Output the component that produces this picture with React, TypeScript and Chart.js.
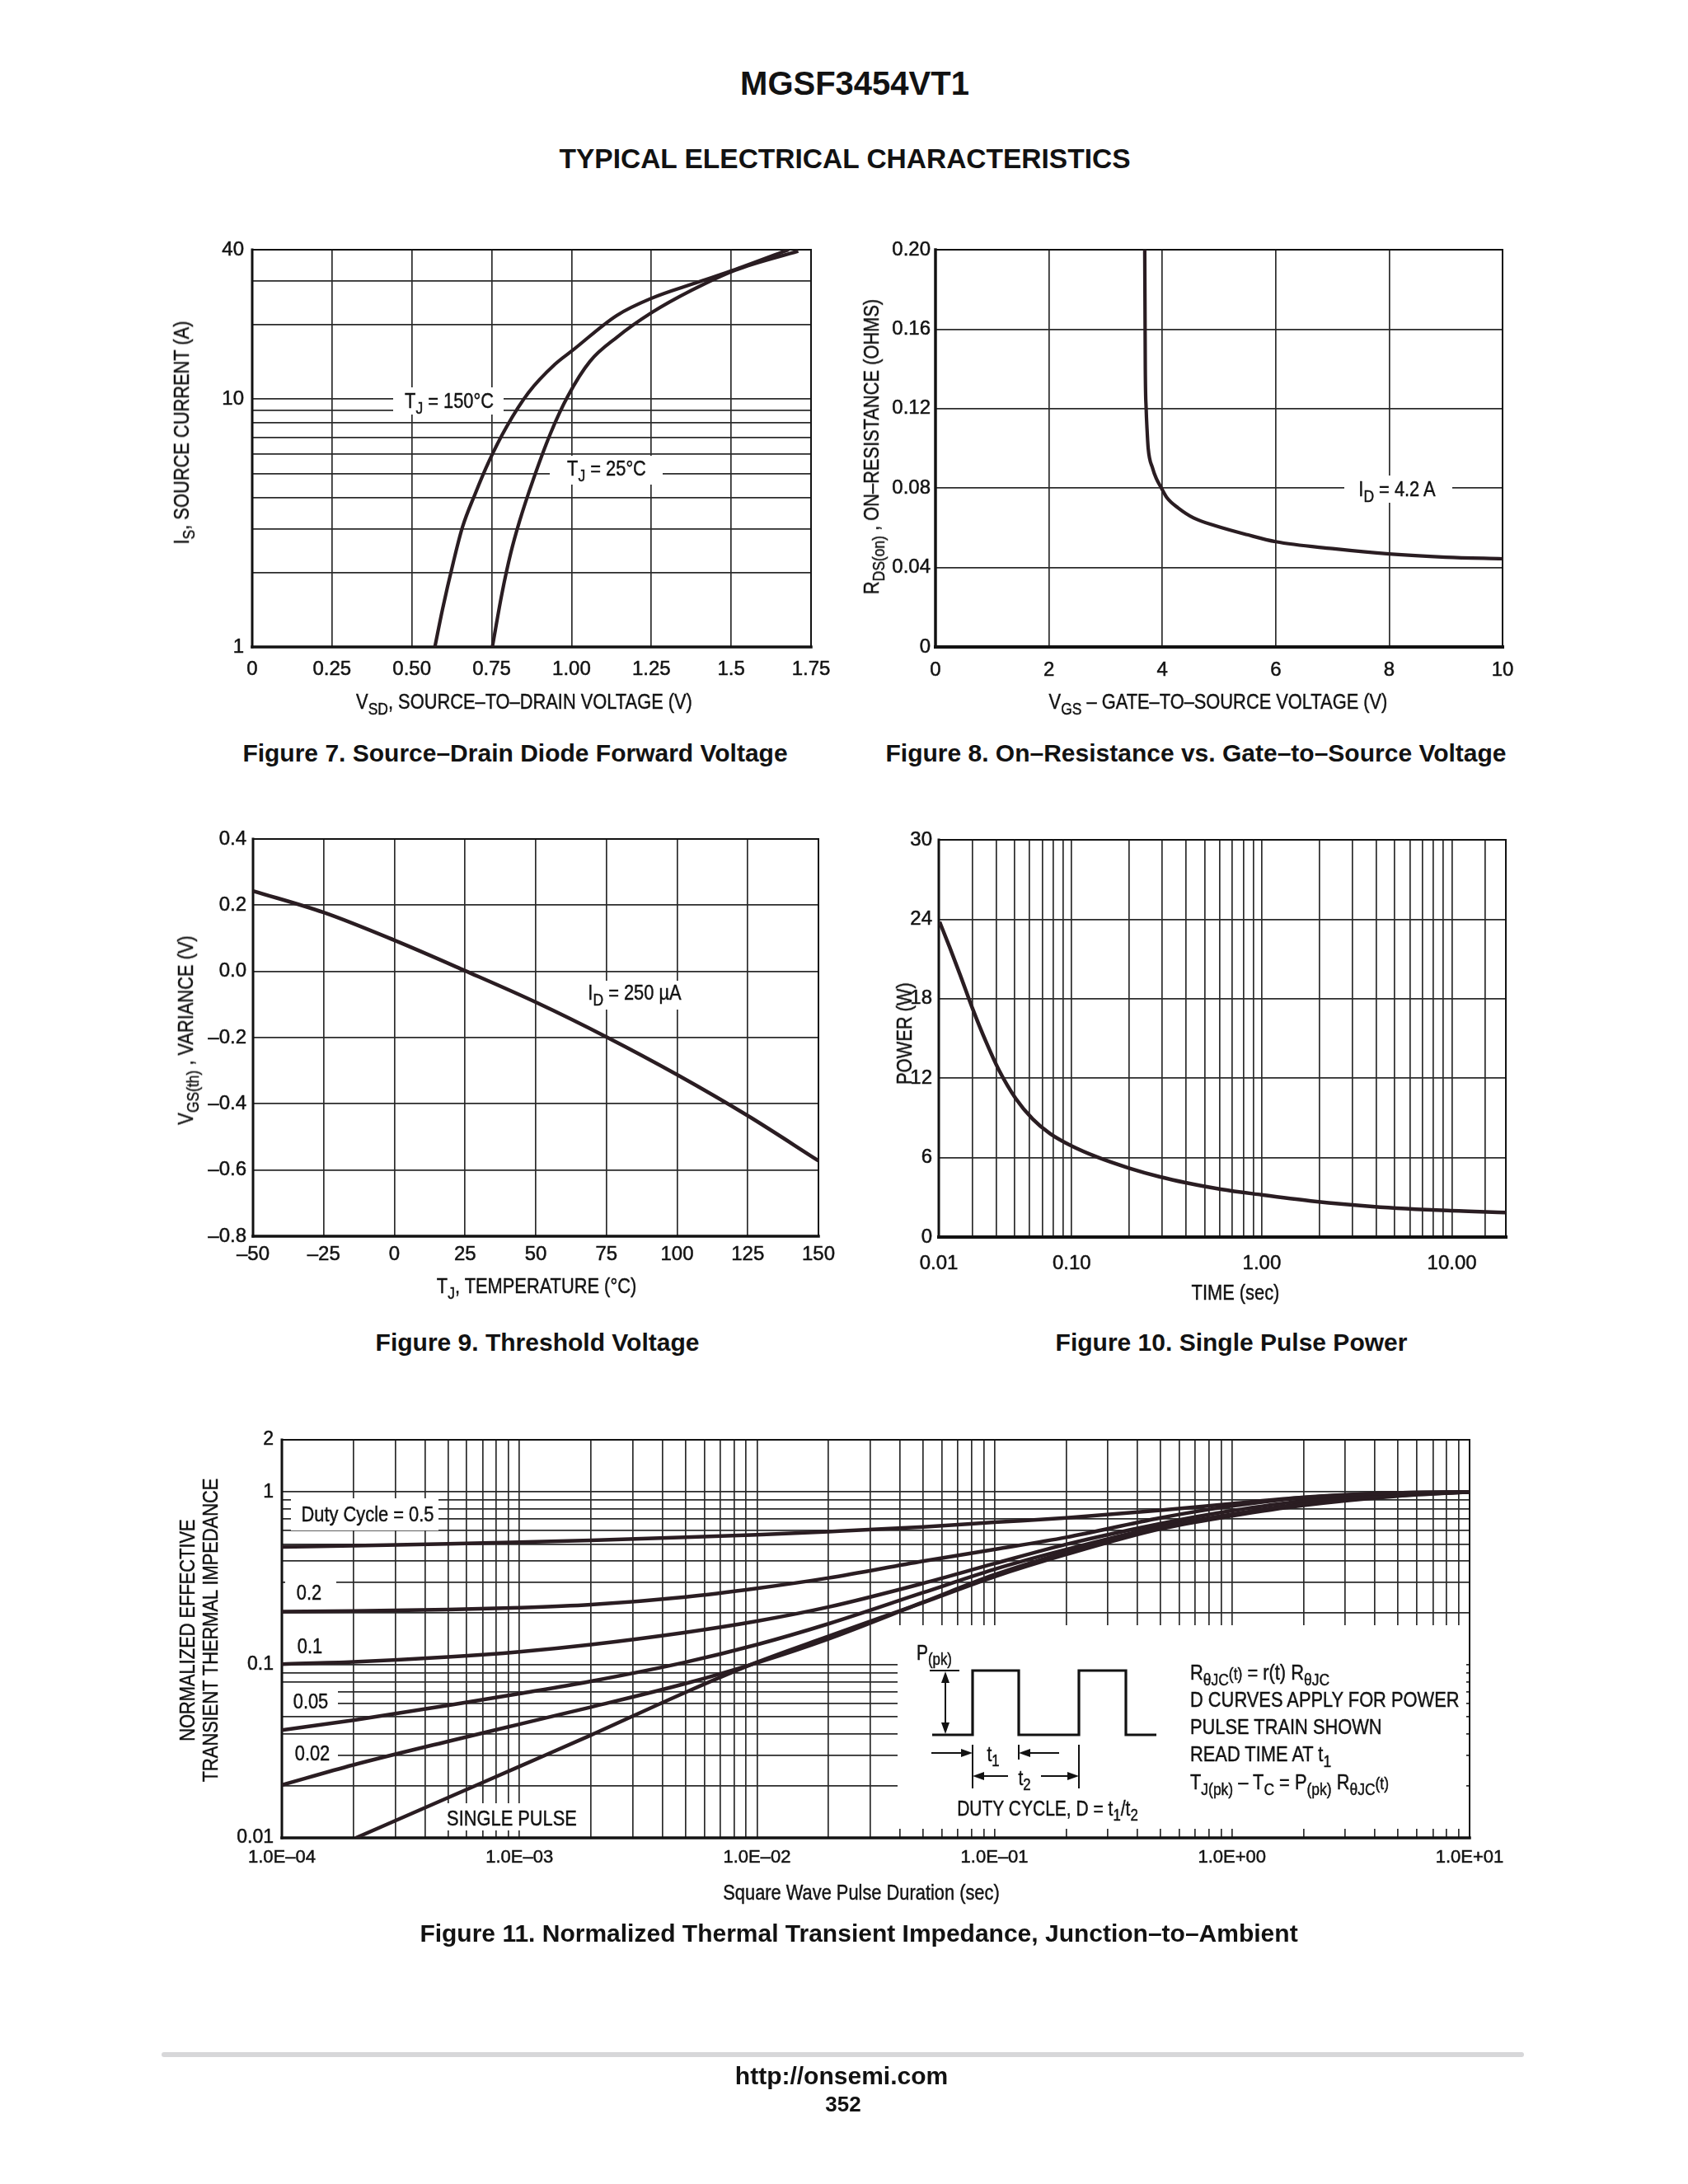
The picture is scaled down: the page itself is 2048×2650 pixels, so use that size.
import React, { useEffect, useRef } from 'react';
import { Chart, registerables } from 'chart.js';

Chart.register(...registerables);

// ===================== DATA =====================
// Figure 7 – Source–Drain Diode Forward Voltage
const f7XTicks = [0, 0.25, 0.5, 0.75, 1.0, 1.25, 1.5, 1.75];
const f7XLabels = ['0', '0.25', '0.50', '0.75', '1.00', '1.25', '1.5', '1.75'];
const f7YGrid = [1, 2, 3, 4, 5, 6, 7, 8, 9, 10, 20, 30, 40];
const f7YLabelVals = [1, 10, 40];
const f7YLabels = ['1', '10', '40'];
const f7Tj150V = [0.572, 0.596, 0.63, 0.658, 0.699, 0.741, 0.796, 0.865, 0.948, 1.003, 1.141, 1.251, 1.389, 1.513, 1.68];
const f7Tj150I = [1.0, 1.42, 2.2, 3.03, 4.17, 5.59, 7.7, 10.6, 13.8, 15.7, 21.7, 25.5, 29.4, 33.3, 40.0];
const f7Tj25V = [0.752, 0.782, 0.81, 0.837, 0.879, 0.934, 0.989, 1.058, 1.141, 1.251, 1.375, 1.513, 1.71];
const f7Tj25I = [1.0, 1.64, 2.4, 3.21, 4.69, 7.26, 10.3, 14.2, 17.7, 22.3, 27.4, 33.1, 39.5];

// Figure 8 – On–Resistance vs. Gate–to–Source Voltage
const f8XTicks = [0, 2, 4, 6, 8, 10];
const f8XLabels = ['0', '2', '4', '6', '8', '10'];
const f8YTicks = [0, 0.04, 0.08, 0.12, 0.16, 0.2];
const f8YLabels = ['0', '0.04', '0.08', '0.12', '0.16', '0.20'];
const f8Vgs = [3.69, 3.695, 3.7, 3.715, 3.73, 3.751, 3.829, 3.891, 3.984, 4.086, 4.28, 4.55, 4.94, 5.5, 6.0, 7.0, 8.0, 9.0, 10.0];
const f8Rds = [0.2, 0.17, 0.14, 0.12, 0.11, 0.1, 0.09, 0.085, 0.08, 0.075, 0.07, 0.065, 0.061, 0.0565, 0.053, 0.0495, 0.0468, 0.0452, 0.0444];

// Figure 9 – Threshold Voltage
const f9XTicks = [-50, -25, 0, 25, 50, 75, 100, 125, 150];
const f9XLabels = ['–50', '–25', '0', '25', '50', '75', '100', '125', '150'];
const f9YTicks = [-0.8, -0.6, -0.4, -0.2, 0, 0.2, 0.4];
const f9YLabels = ['–0.8', '–0.6', '–0.4', '–0.2', '0.0', '0.2', '0.4'];
const f9Tj = [-50, -25, 0, 25, 50, 75, 100, 125, 150];
const f9Var = [0.243, 0.178, 0.094, 0.002, -0.093, -0.198, -0.312, -0.436, -0.572];

// Figure 10 – Single Pulse Power
const f10XGrid = [0.02, 0.03, 0.04, 0.05, 0.06, 0.07, 0.08, 0.09, 0.1, 0.2, 0.3, 0.4, 0.5, 0.6, 0.7, 0.8, 0.9,
  1, 2, 3, 4, 5, 6, 7, 8, 9, 10, 15];
const f10XLabelVals = [0.02, 0.1, 1, 10];
const f10XLabels = ['0.01', '0.10', '1.00', '10.00'];
const f10YTicks = [0, 6, 12, 18, 24, 30];
const f10YLabels = ['0', '6', '12', '18', '24', '30'];
const f10Time = [0.0202, 0.0228, 0.0259, 0.0302, 0.0353, 0.0413, 0.0508, 0.0624, 0.0768, 0.0995, 0.136, 0.2, 0.289, 0.402, 0.608, 0.995, 1.9, 3.82, 9.45, 19.2];
const f10Power = [23.8, 21.9, 19.8, 17.2, 14.8, 12.65, 10.46, 8.91, 7.82, 6.89, 6.04, 5.21, 4.56, 4.09, 3.61, 3.19, 2.69, 2.31, 2.0, 1.85];

// Figure 11 – Normalized Thermal Transient Impedance
const f11Decades = [1e-4, 1e-3, 1e-2, 1e-1, 1];
const f11Steps = [1, 2, 3, 4, 5, 6, 7, 8, 9];
const f11XLabelVals = [1e-4, 1e-3, 1e-2, 1e-1, 1, 10];
const f11XLabels = ['1.0E–04', '1.0E–03', '1.0E–02', '1.0E–01', '1.0E+00', '1.0E+01'];
const f11YDecades = [0.01, 0.1];
const f11YLabelVals = [0.01, 0.1, 1, 2];
const f11YLabels = ['0.01', '0.1', '1', '2'];
const f11T = [1e-4, 2e-4, 5e-4, 1e-3, 2e-3, 5e-3, 1e-2, 2e-2, 5e-2, 0.1, 0.2, 0.5, 1, 2, 5, 10];
const f11D050 = [0.48, 0.489, 0.501, 0.512, 0.525, 0.546, 0.565, 0.589, 0.627, 0.667, 0.708, 0.783, 0.855, 0.931, 0.989, 1.0];
const f11D020 = [0.203, 0.205, 0.209, 0.214, 0.223, 0.247, 0.277, 0.318, 0.398, 0.465, 0.546, 0.708, 0.828, 0.925, 0.989, 1.0];
const f11D010 = [0.101, 0.104, 0.111, 0.119, 0.131, 0.154, 0.179, 0.216, 0.296, 0.385, 0.497, 0.655, 0.778, 0.887, 0.973, 1.0];
const f11D005 = [0.042, 0.0479, 0.0583, 0.0682, 0.0804, 0.1036, 0.131, 0.1728, 0.2615, 0.357, 0.464, 0.629, 0.742, 0.855, 0.959, 1.0];
const f11D002 = [0.0202, 0.0264, 0.0361, 0.0454, 0.057, 0.078, 0.1028, 0.1413, 0.23, 0.332, 0.447, 0.622, 0.74, 0.845, 0.953, 1.0];
const f11SingleT = [2.05e-4, 5e-4, 1e-3, 2e-3, 5e-3, 1e-2, 2e-2, 5e-2, 0.1, 0.2, 0.5, 1, 2, 5, 10];
const f11Single = [0.01, 0.01706, 0.02588, 0.03926, 0.06934, 0.1035, 0.1462, 0.2291, 0.3236, 0.4345, 0.6109, 0.7261, 0.8356, 0.9462, 1.0];

// ===================== STYLE / LAYOUT =====================
const INK = '#121212';
const GRID = '#2b2b2b';
const CURVE = '#2a1d22';
const SANS = "'Liberation Sans', Arial, Helvetica, sans-serif";
const COND = 0.84; // horizontal compression imitating a condensed face

type Rect = { l: number; t: number; w: number; h: number };
type Box = { x1: number; y1: number; x2: number; y2: number };
const MARGIN = { L: 120, T: 30, R: 70, B: 70 };

const P7: Rect = { l: 306, t: 303, w: 678, h: 482 };
const P8: Rect = { l: 1135, t: 303, w: 688, h: 482 };
const P9: Rect = { l: 307, t: 1018, w: 686, h: 482 };
const P10: Rect = { l: 1139, t: 1019, w: 688, h: 482 };
const P11: Rect = { l: 342, t: 1747, w: 1441, h: 483 };

function same(a: number, b: number, log: boolean) {
  return log ? Math.abs(Math.log10(a) - Math.log10(b)) < 1e-6 : Math.abs(a - b) < 1e-9;
}

function axis(o: {
  log?: boolean; min: number; max: number; grid: number[]; labelVals: number[]; labels: string[];
  pad: number; size: number; horizontal: boolean;
}) {
  return {
    type: o.log ? 'logarithmic' : 'linear',
    min: o.min,
    max: o.max,
    afterBuildTicks: (s: any) => { s.ticks = o.grid.map((v) => ({ value: v })); },
    afterFit: (s: any) => { if (o.horizontal) s.height = MARGIN.B; else s.width = MARGIN.L; },
    ticks: {
      autoSkip: false, maxRotation: 0, minRotation: 0, padding: o.pad, color: INK,
      textStrokeColor: INK, textStrokeWidth: 0.5,
      font: { family: SANS, size: o.size },
      callback: (v: number) => {
        const i = o.labelVals.findIndex((k) => same(k, v, !!o.log));
        return i >= 0 ? o.labels[i] : '';
      },
    },
    grid: { color: GRID, lineWidth: 1.7, drawTicks: false },
    border: { display: false },
  };
}

function series(xs: number[], ys: number[], width: number) {
  return {
    data: xs.map((x, i) => ({ x, y: ys[i] })),
    borderColor: CURVE, borderWidth: width, pointRadius: 0, fill: false,
    cubicInterpolationMode: 'monotone',
  };
}

function buildConfig(p: { plot: Rect; x: any; y: any; datasets: any[]; masks?: Box[]; frame: number[] }) {
  const ox = p.plot.l - MARGIN.L;
  const oy = p.plot.t - MARGIN.T;
  const maskPlugin = {
    id: 'masks',
    beforeDatasetsDraw(chart: any) {
      const ctx = chart.ctx;
      ctx.save();
      ctx.fillStyle = '#ffffff';
      (p.masks || []).forEach((m) => ctx.fillRect(m.x1 - ox, m.y1 - oy, m.x2 - m.x1, m.y2 - m.y1));
      ctx.restore();
    },
  };
  const framePlugin = {
    id: 'frame',
    beforeDatasetsDraw(chart: any) {
      const { ctx, chartArea: a } = chart;
      const [wl, wb, wt, wr] = p.frame;
      ctx.save();
      ctx.strokeStyle = INK;
      ctx.lineCap = 'square';
      const seg = (x1: number, y1: number, x2: number, y2: number, w: number) => {
        ctx.lineWidth = w; ctx.beginPath(); ctx.moveTo(x1, y1); ctx.lineTo(x2, y2); ctx.stroke();
      };
      seg(a.left, a.top, a.right, a.top, wt);
      seg(a.right, a.top, a.right, a.bottom, wr);
      seg(a.left, a.bottom, a.right, a.bottom, wb);
      seg(a.left, a.top, a.left, a.bottom, wl);
      ctx.restore();
    },
  };
  return {
    type: 'line',
    data: { datasets: p.datasets },
    options: {
      responsive: false, animation: false, devicePixelRatio: 1,
      layout: { padding: { left: 0, top: MARGIN.T, right: MARGIN.R, bottom: 0 } },
      plugins: { legend: { display: false }, tooltip: { enabled: false } },
      scales: { x: p.x, y: p.y },
    },
    plugins: [maskPlugin, framePlugin],
  };
}

function ChartCanvas({ plot, make }: { plot: Rect; make: () => any }) {
  const ref = useRef<HTMLCanvasElement>(null);
  useEffect(() => {
    const chart = new Chart(ref.current as HTMLCanvasElement, make());
    return () => chart.destroy();
  }, []);
  const W = plot.w + MARGIN.L + MARGIN.R;
  const H = plot.h + MARGIN.T + MARGIN.B;
  return (
    <canvas ref={ref} width={W} height={H}
      style={{ position: 'absolute', left: plot.l - MARGIN.L, top: plot.t - MARGIN.T, width: W, height: H }} />
  );
}

// ===================== CHART CONFIGS =====================
const makeFig7 = () => buildConfig({
  plot: P7,
  x: axis({ min: 0, max: 1.75, grid: f7XTicks, labelVals: f7XTicks, labels: f7XLabels, pad: 13, size: 24, horizontal: true }),
  y: axis({ log: true, min: 1, max: 40, grid: f7YGrid, labelVals: f7YLabelVals, labels: f7YLabels, pad: 10, size: 24, horizontal: false }),
  datasets: [series(f7Tj150V, f7Tj150I, 4.2), series(f7Tj25V, f7Tj25I, 4.2)],
  masks: [{ x1: 477, y1: 470, x2: 611, y2: 503 }, { x1: 667, y1: 553, x2: 804, y2: 588 }],
  frame: [3, 3.5, 2, 2],
});

const makeFig8 = () => buildConfig({
  plot: P8,
  x: axis({ min: 0, max: 10, grid: f8XTicks, labelVals: f8XTicks, labels: f8XLabels, pad: 14, size: 24, horizontal: true }),
  y: axis({ min: 0, max: 0.2, grid: f8YTicks, labelVals: f8YTicks, labels: f8YLabels, pad: 6, size: 24, horizontal: false }),
  datasets: [series(f8Vgs, f8Rds, 4.2)],
  masks: [{ x1: 1631, y1: 577, x2: 1762, y2: 610 }],
  frame: [3.5, 4, 2, 2],
});

const makeFig9 = () => buildConfig({
  plot: P9,
  x: axis({ min: -50, max: 150, grid: f9XTicks, labelVals: f9XTicks, labels: f9XLabels, pad: 8, size: 24, horizontal: true }),
  y: axis({ min: -0.8, max: 0.4, grid: f9YTicks, labelVals: f9YTicks, labels: f9YLabels, pad: 8, size: 24, horizontal: false }),
  datasets: [series(f9Tj, f9Var, 4.5)],
  masks: [{ x1: 706, y1: 1190, x2: 834, y2: 1225 }],
  frame: [3, 3.5, 2, 2],
});

const makeFig10 = () => buildConfig({
  plot: P10,
  x: axis({ log: true, min: 0.02, max: 19.2, grid: f10XGrid, labelVals: f10XLabelVals, labels: f10XLabels, pad: 18, size: 24, horizontal: true }),
  y: axis({ min: 0, max: 30, grid: f10YTicks, labelVals: f10YTicks, labels: f10YLabels, pad: 8, size: 24, horizontal: false }),
  datasets: [series(f10Time, f10Power, 4.5)],
  frame: [3, 4, 2, 2],
});

const f11XGrid = [...f11Decades.flatMap((d) => f11Steps.map((k) => k * d)), 10];
const f11YGrid = [...f11YDecades.flatMap((d) => f11Steps.map((k) => k * d)), 1, 2];

const makeFig11 = () => buildConfig({
  plot: P11,
  x: axis({ log: true, min: 1e-4, max: 10, grid: f11XGrid, labelVals: f11XLabelVals, labels: f11XLabels, pad: 11, size: 22, horizontal: true }),
  y: axis({ log: true, min: 0.01, max: 2, grid: f11YGrid, labelVals: f11YLabelVals, labels: f11YLabels, pad: 10, size: 23, horizontal: false }),
  datasets: [
    series(f11T, f11D050, 4.5), series(f11T, f11D020, 4.5), series(f11T, f11D010, 4.5),
    series(f11T, f11D005, 4.5), series(f11T, f11D002, 4.5), series(f11SingleT, f11Single, 4.5),
  ],
  masks: [
    { x1: 1089, y1: 1972, x2: 1779, y2: 2219 },
    { x1: 353, y1: 1818, x2: 532, y2: 1857 },
    { x1: 346, y1: 1918, x2: 408, y2: 1947 },
    { x1: 343, y1: 2045, x2: 410, y2: 2075 },
    { x1: 343, y1: 2117, x2: 410, y2: 2140 },
    { x1: 536, y1: 2188, x2: 706, y2: 2221 },
  ],
  frame: [3, 3.5, 2, 2],
});

// ===================== TEXT HELPERS =====================
function Txt(props: {
  x: number; y: number; size?: number; weight?: number; rot?: boolean; sx?: number;
  align?: 'center' | 'left'; children: React.ReactNode;
}) {
  const { x, y, size = 26, weight = 400, rot = false, sx = COND, align = 'center', children } = props;
  const tr = (align === 'center' ? 'translate(-50%,-50%)' : 'translate(0,-50%)') +
    (rot ? ' rotate(-90deg)' : '') + (sx !== 1 ? ` scaleX(${sx})` : '');
  return (
    <div style={{
      position: 'absolute', left: x, top: y, transform: tr,
      transformOrigin: align === 'center' ? '50% 50%' : '0 50%',
      fontFamily: SANS, fontSize: size, fontWeight: weight, lineHeight: 1, whiteSpace: 'nowrap', color: INK,
      WebkitTextStroke: weight < 600 ? `0.45px ${INK}` : undefined,
    }}>{children}</div>
  );
}
const Sb = ({ children }: { children: React.ReactNode }) => (
  <span style={{ fontSize: '0.8em', position: 'relative', top: '0.32em' }}>{children}</span>
);
const Sm = ({ children }: { children: React.ReactNode }) => (
  <span style={{ fontSize: '0.8em' }}>{children}</span>
);

function arrowPts(x: number, y: number, dir: 'l' | 'r' | 'u' | 'd') {
  const L = 14, W = 5;
  if (dir === 'r') return `${x},${y} ${x - L},${y - W} ${x - L},${y + W}`;
  if (dir === 'l') return `${x},${y} ${x + L},${y - W} ${x + L},${y + W}`;
  if (dir === 'u') return `${x},${y} ${x - W},${y + L} ${x + W},${y + L}`;
  return `${x},${y} ${x - W},${y - L} ${x + W},${y - L}`;
}

function PulseDiagram() {
  return (
    <svg width={2048} height={2650} style={{ position: 'absolute', left: 0, top: 0, pointerEvents: 'none' }}>
      <g stroke={INK} fill="none">
        <polyline strokeWidth={3.2} points="1131,2105 1180,2105 1180,2027 1236,2027 1236,2105 1309,2105 1309,2027 1366,2027 1366,2105 1403,2105" />
        <line x1={1128} y1={2027} x2={1164} y2={2027} strokeWidth={2} />
        <line x1={1147} y1={2038} x2={1147} y2={2094} strokeWidth={2} />
        <line x1={1130} y1={2127} x2={1170} y2={2127} strokeWidth={2} />
        <line x1={1285} y1={2127} x2={1246} y2={2127} strokeWidth={2} />
        <line x1={1180} y1={2117} x2={1180} y2={2170} strokeWidth={2} />
        <line x1={1236} y1={2117} x2={1236} y2={2135} strokeWidth={2} />
        <line x1={1309} y1={2117} x2={1309} y2={2170} strokeWidth={2} />
        <line x1={1223} y1={2155} x2={1190} y2={2155} strokeWidth={2} />
        <line x1={1263} y1={2155} x2={1299} y2={2155} strokeWidth={2} />
      </g>
      <g fill={INK}>
        <polygon points={arrowPts(1147, 2028, 'u')} />
        <polygon points={arrowPts(1147, 2104, 'd')} />
        <polygon points={arrowPts(1180, 2127, 'r')} />
        <polygon points={arrowPts(1236, 2127, 'l')} />
        <polygon points={arrowPts(1180, 2155, 'l')} />
        <polygon points={arrowPts(1309, 2155, 'r')} />
      </g>
    </svg>
  );
}

// ===================== APP =====================
export default function App() {
  return (
    <div style={{ position: 'absolute', left: 0, top: 0, width: 2048, height: 2650, background: '#fff', overflow: 'hidden' }}>
      <Txt x={1037} y={101} size={40} weight={700} sx={1}>MGSF3454VT1</Txt>
      <Txt x={1025} y={193} size={33.5} weight={700} sx={1}>TYPICAL ELECTRICAL CHARACTERISTICS</Txt>

      <ChartCanvas plot={P7} make={makeFig7} />
      <ChartCanvas plot={P8} make={makeFig8} />
      <ChartCanvas plot={P9} make={makeFig9} />
      <ChartCanvas plot={P10} make={makeFig10} />
      <ChartCanvas plot={P11} make={makeFig11} />

      {/* Figure 7 texts */}
      <Txt x={545} y={486}>T<Sb>J</Sb> = 150°C</Txt>
      <Txt x={736} y={568}>T<Sb>J</Sb> = 25°C</Txt>
      <Txt x={636} y={851}>V<Sb>SD</Sb>, SOURCE–TO–DRAIN VOLTAGE (V)</Txt>
      <Txt x={220} y={525} rot>I<Sb>S</Sb>, SOURCE CURRENT (A)</Txt>
      <Txt x={625} y={914} size={30} weight={700} sx={1}>Figure 7. Source–Drain Diode Forward Voltage</Txt>

      {/* Figure 8 texts */}
      <Txt x={1695} y={593}>I<Sb>D</Sb> = 4.2 A</Txt>
      <Txt x={1478} y={851}>V<Sb>GS</Sb> – GATE–TO–SOURCE VOLTAGE (V)</Txt>
      <Txt x={1057} y={542} rot>R<Sb>DS(on)</Sb> , ON–RESISTANCE (OHMS)</Txt>
      <Txt x={1451} y={914} size={30} weight={700} sx={1}>Figure 8. On–Resistance vs. Gate–to–Source Voltage</Txt>

      {/* Figure 9 texts */}
      <Txt x={770} y={1204}>I<Sb>D</Sb> = 250 µA</Txt>
      <Txt x={651} y={1560}>T<Sb>J</Sb>, TEMPERATURE (°C)</Txt>
      <Txt x={225} y={1250} rot>V<Sb>GS(th)</Sb> , VARIANCE (V)</Txt>
      <Txt x={652} y={1629} size={30} weight={700} sx={1}>Figure 9. Threshold Voltage</Txt>

      {/* Figure 10 texts */}
      <Txt x={1499} y={1568}>TIME (sec)</Txt>
      <Txt x={1097} y={1254} rot>POWER (W)</Txt>
      <Txt x={1494} y={1629} size={30} weight={700} sx={1}>Figure 10. Single Pulse Power</Txt>

      {/* Figure 11 texts */}
      <Txt x={446} y={1837}>Duty Cycle = 0.5</Txt>
      <Txt x={375} y={1932}>0.2</Txt>
      <Txt x={376} y={1997}>0.1</Txt>
      <Txt x={377} y={2064}>0.05</Txt>
      <Txt x={379} y={2127}>0.02</Txt>
      <Txt x={621} y={2206}>SINGLE PULSE</Txt>
      <Txt x={1045} y={2296}>Square Wave Pulse Duration (sec)</Txt>
      <Txt x={227} y={1978} rot>NORMALIZED EFFECTIVE</Txt>
      <Txt x={255} y={1978} rot>TRANSIENT THERMAL IMPEDANCE</Txt>

      <PulseDiagram />
      <Txt x={1112} y={2005} size={25} align="left">P<Sb>(pk)</Sb></Txt>
      <Txt x={1205} y={2128} size={25}>t<Sb>1</Sb></Txt>
      <Txt x={1243} y={2157} size={25}>t<Sb>2</Sb></Txt>
      <Txt x={1271} y={2194} size={25}>DUTY CYCLE, D = t<Sb>1</Sb>/t<Sb>2</Sb></Txt>
      <Txt x={1444} y={2029} size={26} align="left">R<Sb>θJC</Sb><Sm>(t)</Sm> = r(t) R<Sb>θJC</Sb></Txt>
      <Txt x={1444} y={2062} size={26} align="left">D CURVES APPLY FOR POWER</Txt>
      <Txt x={1444} y={2095} size={26} align="left">PULSE TRAIN SHOWN</Txt>
      <Txt x={1444} y={2128} size={26} align="left">READ TIME AT t<Sb>1</Sb></Txt>
      <Txt x={1444} y={2162} size={26} align="left">T<Sb>J(pk)</Sb> – T<Sb>C</Sb> = P<Sb>(pk)</Sb> R<Sb>θJC</Sb><Sm>(t)</Sm></Txt>
      <Txt x={1042} y={2346} size={30} weight={700} sx={1}>Figure 11. Normalized Thermal Transient Impedance, Junction–to–Ambient</Txt>

      {/* Footer */}
      <div style={{ position: 'absolute', left: 196, top: 2490, width: 1653, height: 6, background: '#d7d7d9', borderRadius: 3 }} />
      <Txt x={1021} y={2519} size={30} weight={700} sx={1}>http://onsemi.com</Txt>
      <Txt x={1023} y={2553} size={26} weight={700} sx={1}>352</Txt>
    </div>
  );
}
